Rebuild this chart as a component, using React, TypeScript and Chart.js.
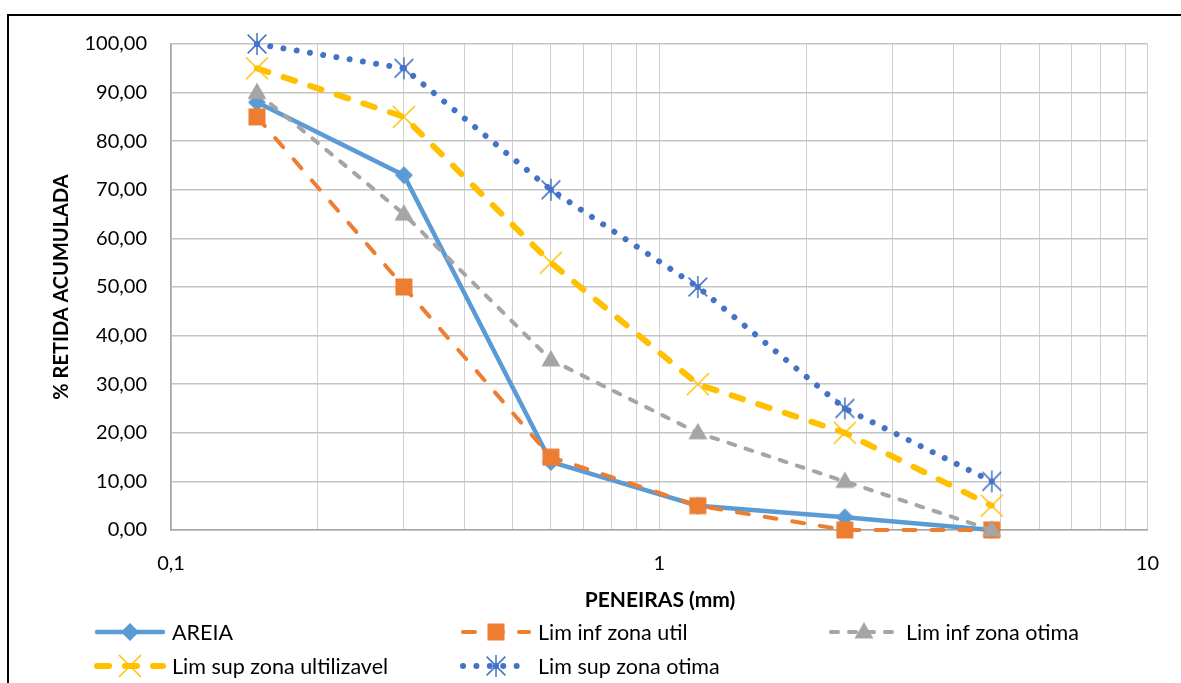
import React, { useEffect, useRef } from "react";
import { Chart, registerables } from "chart.js";

Chart.register(...registerables);

const sieves = [0.15, 0.3, 0.6, 1.2, 2.4, 4.8];
const areia = [88, 73, 14, 5, 2.6, 0];
const limInfUtil = [85, 50, 15, 5, 0, 0];
const limInfOtima = [90, 65, 35, 20, 10, 0];
const limSupUtil = [95, 85, 55, 30, 20, 5];
const limSupOtima = [100, 95, 70, 50, 25, 10];
const seriesNames = ["AREIA", "Lim inf zona util", "Lim inf zona otima", "Lim sup zona ultilizavel", "Lim sup zona otima"];
const xTickLabels: Record<string, string> = { "0.1": "0,1", "1": "1", "10": "10" };

const FONT = "Lato, 'Open Sans', sans-serif";

type Style = {
  color: string;
  width: number;
  dash: number[];
  cap: CanvasLineCap;
  point: string;
  size: number;
  pointBorder: number;
};

const styles: Style[] = [
  { color: "#5B9BD5", width: 4.5, dash: [], cap: "round", point: "diamond", size: 9, pointBorder: 1 },
  { color: "#ED7D31", width: 4, dash: [12, 16], cap: "round", point: "square", size: 8.5, pointBorder: 1 },
  { color: "#A5A5A5", width: 4, dash: [7, 11], cap: "round", point: "triangle", size: 10, pointBorder: 1 },
  { color: "#FFC000", width: 6, dash: [12, 16], cap: "round", point: "x", size: 11, pointBorder: 1.5 },
  { color: "#4472C4", width: 6, dash: [0.01, 13.4], cap: "round", point: "star", size: 11, pointBorder: 1.5 },
];

function drawMarker(ctx: CanvasRenderingContext2D, s: Style, x: number, y: number) {
  const r = s.size;
  ctx.save();
  ctx.setLineDash([]);
  ctx.fillStyle = s.color;
  ctx.strokeStyle = s.color;
  ctx.lineWidth = s.pointBorder;
  ctx.lineCap = "butt";
  ctx.beginPath();
  if (s.point === "diamond") {
    ctx.moveTo(x, y - r);
    ctx.lineTo(x + r, y);
    ctx.lineTo(x, y + r);
    ctx.lineTo(x - r, y);
    ctx.closePath();
    ctx.fill();
  } else if (s.point === "square") {
    ctx.rect(x - r, y - r, 2 * r, 2 * r);
    ctx.fill();
  } else if (s.point === "triangle") {
    ctx.moveTo(x, y - r);
    ctx.lineTo(x + r * 0.95, y + r * 0.65);
    ctx.lineTo(x - r * 0.95, y + r * 0.65);
    ctx.closePath();
    ctx.fill();
  } else if (s.point === "x") {
    ctx.moveTo(x - r, y - r);
    ctx.lineTo(x + r, y + r);
    ctx.moveTo(x + r, y - r);
    ctx.lineTo(x - r, y + r);
    ctx.stroke();
  } else if (s.point === "star") {
    const d = r * 0.85;
    ctx.moveTo(x - d, y - d);
    ctx.lineTo(x + d, y + d);
    ctx.moveTo(x + d, y - d);
    ctx.lineTo(x - d, y + d);
    ctx.moveTo(x, y - r);
    ctx.lineTo(x, y + r);
    ctx.stroke();
    ctx.beginPath();
    ctx.arc(x, y, 3, 0, Math.PI * 2);
    ctx.fill();
  }
  ctx.restore();
}

function markerCanvas(s: Style): HTMLCanvasElement {
  const c = document.createElement("canvas");
  c.width = 32;
  c.height = 32;
  const ctx = c.getContext("2d")!;
  drawMarker(ctx, s, 16, 16);
  return c;
}

const legendPos = [
  { x: 95, y: 632 },
  { x: 461, y: 632 },
  { x: 829, y: 632 },
  { x: 95, y: 666 },
  { x: 461, y: 666 },
];

const decorPlugin = {
  id: "decor",
  afterDraw(chart: any) {
    const ctx: CanvasRenderingContext2D = chart.ctx;
    ctx.save();
    // outer border
    ctx.strokeStyle = "#000";
    ctx.lineWidth = 2;
    ctx.beginPath();
    ctx.moveTo(8, 683);
    ctx.lineTo(8, 15);
    ctx.lineTo(1181, 15);
    ctx.stroke();

    // axis titles
    ctx.fillStyle = "#000";
    ctx.font = `bold 21px ${FONT}`;
    ctx.textAlign = "center";
    ctx.textBaseline = "middle";
    ctx.fillText("PENEIRAS (mm)", 660, 600);
    ctx.font = `bold 20px ${FONT}`;
    ctx.save();
    ctx.translate(62, 287);
    ctx.rotate(-Math.PI / 2);
    ctx.fillText("% RETIDA ACUMULADA", 0, 0);
    ctx.restore();

    // legend
    ctx.font = `21.5px ${FONT}`;
    ctx.textAlign = "left";
    seriesNames.forEach((name, i) => {
      const s = styles[i];
      const { x, y } = legendPos[i];
      ctx.save();
      ctx.strokeStyle = s.color;
      ctx.lineWidth = s.width;
      ctx.lineCap = s.cap;
      ctx.setLineDash(s.dash);
      ctx.beginPath();
      ctx.moveTo(x + 2, y);
      ctx.lineTo(x + 68, y);
      ctx.stroke();
      ctx.restore();
      drawMarker(ctx, s, x + 35, y);
      ctx.fillStyle = "#000";
      ctx.fillText(name, x + 77, y + 1);
    });
    ctx.restore();
  },
};

export default function App() {
  const ref = useRef<HTMLCanvasElement>(null);
  useEffect(() => {
    if (!ref.current) return;
    const allSeries = [areia, limInfUtil, limInfOtima, limSupUtil, limSupOtima];
    const chart = new Chart(ref.current, {
      type: "line",
      data: {
        datasets: allSeries.map((vals, i) => ({
          label: seriesNames[i],
          data: sieves.map((x, j) => ({ x, y: vals[j] })),
          borderColor: styles[i].color,
          backgroundColor: styles[i].color,
          borderWidth: styles[i].width,
          borderDash: styles[i].dash,
          borderCapStyle: styles[i].cap,
          pointStyle: markerCanvas(styles[i]) as any,
          pointRadius: 12,
          tension: 0,
          order: 5 - i,
          clip: false as any,
        })),
      },
      options: {
        animation: false,
        responsive: false,
        layout: { padding: { left: 0, right: 31, top: 44, bottom: 0 } },
        plugins: { legend: { display: false }, tooltip: { enabled: false } },
        scales: {
          x: {
            type: "logarithmic",
            min: 0.1,
            max: 10,
            afterFit: (s: any) => {
              s.height = 153;
            },
            afterBuildTicks: (s: any) => {
              const t: any[] = [];
              [0.1, 1].forEach((d) => {
                for (let k = 1; k <= 9; k++) t.push({ value: +(d * k).toPrecision(3) });
              });
              t.push({ value: 10 });
              s.ticks = t;
            },
            ticks: {
              autoSkip: false,
              maxRotation: 0,
              padding: 22,
              color: "#000",
              font: { family: FONT, size: 20 },
              callback: (v: any) => xTickLabels[String(v)] ?? "",
            },
            grid: { color: "#d0d0d0", lineWidth: 1, drawTicks: false },
            border: { color: "#a6a6a6", width: 1.5 },
          },
          y: {
            type: "linear",
            min: 0,
            max: 100,
            afterFit: (s: any) => {
              s.width = 171;
            },
            ticks: {
              stepSize: 10,
              padding: 24,
              color: "#000",
              font: { family: FONT, size: 20 },
              callback: (v: any) => Number(v).toFixed(2).replace(".", ","),
            },
            grid: { color: "#c4c4c4", lineWidth: 1.5, drawTicks: false },
            border: { color: "#a6a6a6", width: 1.5 },
          },
        },
      },
      plugins: [decorPlugin],
    });
    return () => chart.destroy();
  }, []);
  return (
    <div style={{ position: "absolute", left: 0, top: 0, width: 1181, height: 683, background: "#fff" }}>
      <canvas ref={ref} width={1181} height={683} />
    </div>
  );
}
